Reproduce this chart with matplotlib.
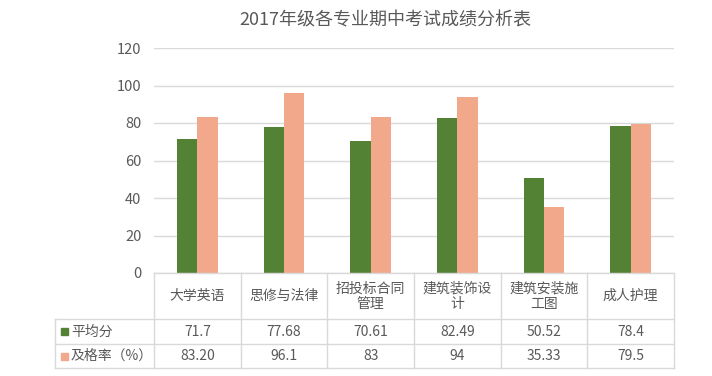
import matplotlib.pyplot as plt
import numpy as np

plt.rcParams['font.family'] = ['Noto Sans CJK SC', 'DejaVu Sans']

categories = ["大学英语", "思修与法律", "招投标合同\n管理", "建筑装饰设\n计", "建筑安装施\n工图", "成人护理"]
series_names = ["平均分", "及格率（%）"]
avg_score = [71.7, 77.68, 70.61, 82.49, 50.52, 78.4]
pass_rate = [83.20, 96.1, 83, 94, 35.33, 79.5]
avg_labels = ["71.7", "77.68", "70.61", "82.49", "50.52", "78.4"]
pass_labels = ["83.20", "96.1", "83", "94", "35.33", "79.5"]
colors = ["#548235", "#F1A88B"]
text_color = "#595959"
line_color = "#D9D9D9"

W, H = 712, 376
fig = plt.figure(figsize=(W / 100, H / 100), dpi=100)

# plot area in pixels
x0, x1 = 154, 674
y_top, y_zero = 48, 273
ax = fig.add_axes([x0 / W, 1 - y_zero / H, (x1 - x0) / W, (y_zero - y_top) / H])

n = len(categories)
x = np.arange(n)
bw = 0.235
ax.bar(x - bw / 2, avg_score, bw, color=colors[0], zorder=3)
ax.bar(x + bw / 2, pass_rate, bw, color=colors[1], zorder=3)
ax.set_xlim(-0.5, n - 0.5)
ax.set_ylim(0, 120)
ax.set_yticks(range(0, 121, 20))
ax.yaxis.grid(True, color=line_color, lw=1, zorder=0)
ax.set_xticks([])
for s in ax.spines.values():
    s.set_visible(False)
ax.tick_params(axis='y', length=0, pad=9, labelsize=10.5, labelcolor=text_color)

fig.text(385 / W, 1 - 20 / H, "2017年级各专业期中考试成绩分析表", ha='center', va='center',
         fontsize=13, color=text_color)

# data table below the plot (pixel coordinates overlay)
tab = fig.add_axes([0, 0, 1, 1])
tab.set_xlim(0, W)
tab.set_ylim(H, 0)
tab.axis('off')

lx = 55
r1, r2, r3 = 319, 344, 368
cw = (x1 - x0) / n
kw = dict(color=line_color, lw=1)
tab.plot([x0, x1], [y_zero, y_zero], **kw)
for yy in (r1, r2, r3):
    tab.plot([lx, x1], [yy, yy], **kw)
tab.plot([lx, lx], [r1, r3], **kw)
for i in range(n + 1):
    tab.plot([x0 + i * cw, x0 + i * cw], [y_zero, r3], **kw)

for i, cat in enumerate(categories):
    cx = x0 + (i + 0.5) * cw
    tab.text(cx, (y_zero + r1) / 2, cat, ha='center', va='center', fontsize=10,
             color=text_color, linespacing=1.1)
    tab.text(cx, (r1 + r2) / 2, avg_labels[i], ha='center', va='center', fontsize=10, color=text_color)
    tab.text(cx, (r2 + r3) / 2, pass_labels[i], ha='center', va='center', fontsize=10, color=text_color)

for j, (name, yc) in enumerate(zip(series_names, [(r1 + r2) / 2, (r2 + r3) / 2])):
    tab.add_patch(plt.Rectangle((61, yc - 3.5), 7, 7, color=colors[j]))
    tab.text(71, yc, name, ha='left', va='center', fontsize=10, color=text_color)

fig.savefig("out.png", dpi=100)
